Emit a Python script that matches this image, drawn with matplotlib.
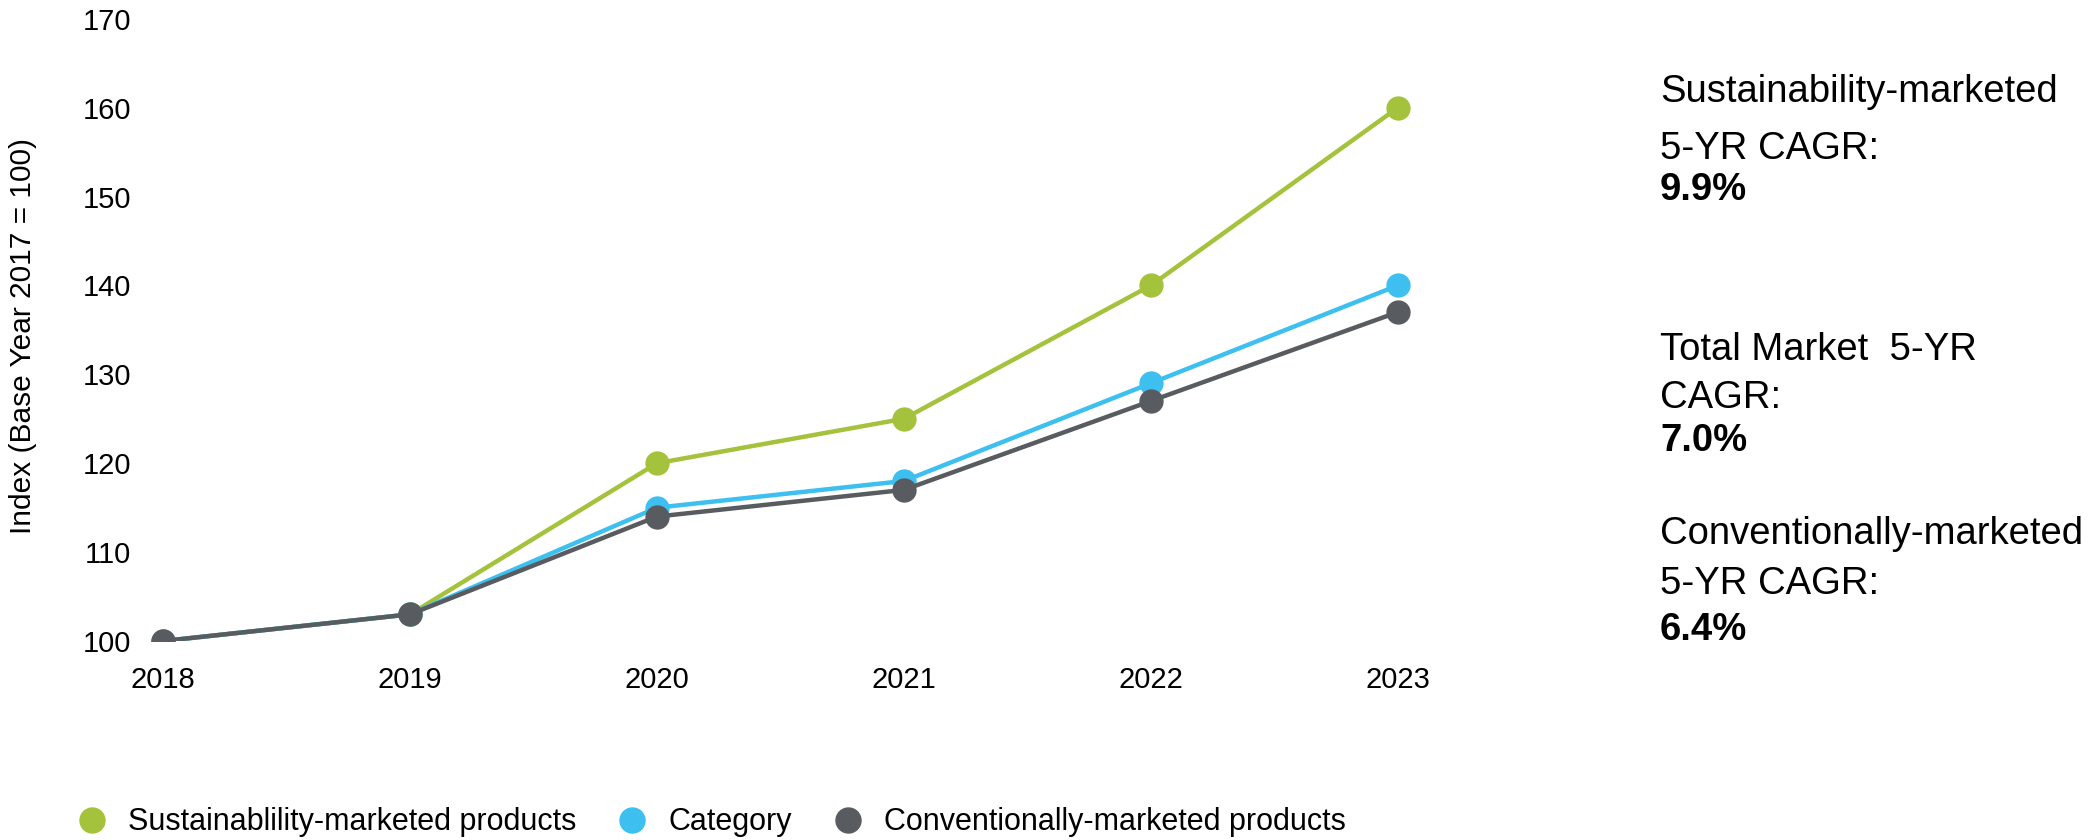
import numpy as np
import matplotlib
matplotlib.use('Agg')
from matplotlib import pyplot as plt
from matplotlib.lines import Line2D

plt.rcParams['font.family'] = ['Liberation Sans', 'DejaVu Sans']

# Data
years = [2018, 2019, 2020, 2021, 2022, 2023]
sustainability = [100, 103, 120, 125, 140, 160]
category = [100, 103, 115, 118, 129, 140]
conventional = [100, 103, 114, 117, 127, 137]
series_names = ['Sustainablility-marketed products', 'Category', 'Conventionally-marketed products']
series_colors = ['#a5c23c', '#3dbfef', '#585b60']

cagr_lines = [['Sustainability-marketed', '5-YR CAGR:', '9.9%'],
              ['Total Market  5-YR', 'CAGR:', '7.0%'],
              ['Conventionally-marketed', '5-YR CAGR:', '6.4%']]
# baselines of the text lines, in pixels from the top of the figure
cagr_baselines = [[102, 159, 200], [360, 408, 451], [544, 594, 640]]

W, H = 2093, 840
fig = plt.figure(figsize=(W / 100, H / 100), dpi=100)
ax = fig.add_axes([0.0661, 0.2369, 0.6136, 0.7408])

for vals, col in zip([sustainability, category, conventional], series_colors):
    ax.plot(years, vals, color=col, linewidth=3.2, marker='o', markersize=16.5)

ax.set_xlim(2017.9, 2023.1)
ax.set_ylim(100, 170)
ax.set_xticks(years)
ax.set_yticks(range(100, 171, 10))
ax.tick_params(length=0, labelsize=21)
ax.tick_params(axis='x', pad=18)
ax.tick_params(axis='y', pad=5)
for s in ax.spines.values():
    s.set_visible(False)
fig.text(23 / W, 0.6, 'Index (Base Year 2017 = 100)', fontsize=21.5, rotation=90,
         ha='center', va='center')

# CAGR notes on the right
for lines, bases in zip(cagr_lines, cagr_baselines):
    for i, (txt, b) in enumerate(zip(lines, bases)):
        fig.text(1660 / W, 1 - b / H, txt, fontsize=27.5, va='baseline', ha='left',
                 fontweight='bold' if i == 2 else 'normal')

handles = [Line2D([], [], color=c, marker='o', linestyle='none', markersize=18) for c in series_colors]
fig.legend(handles, series_names, loc='center left', bbox_to_anchor=(0.0366, 0.021), ncol=3,
           frameon=False, fontsize=22, handlelength=1.0, handletextpad=0.68,
           columnspacing=1.33, borderpad=0, borderaxespad=0)

fig.savefig('out.png', dpi=100)
